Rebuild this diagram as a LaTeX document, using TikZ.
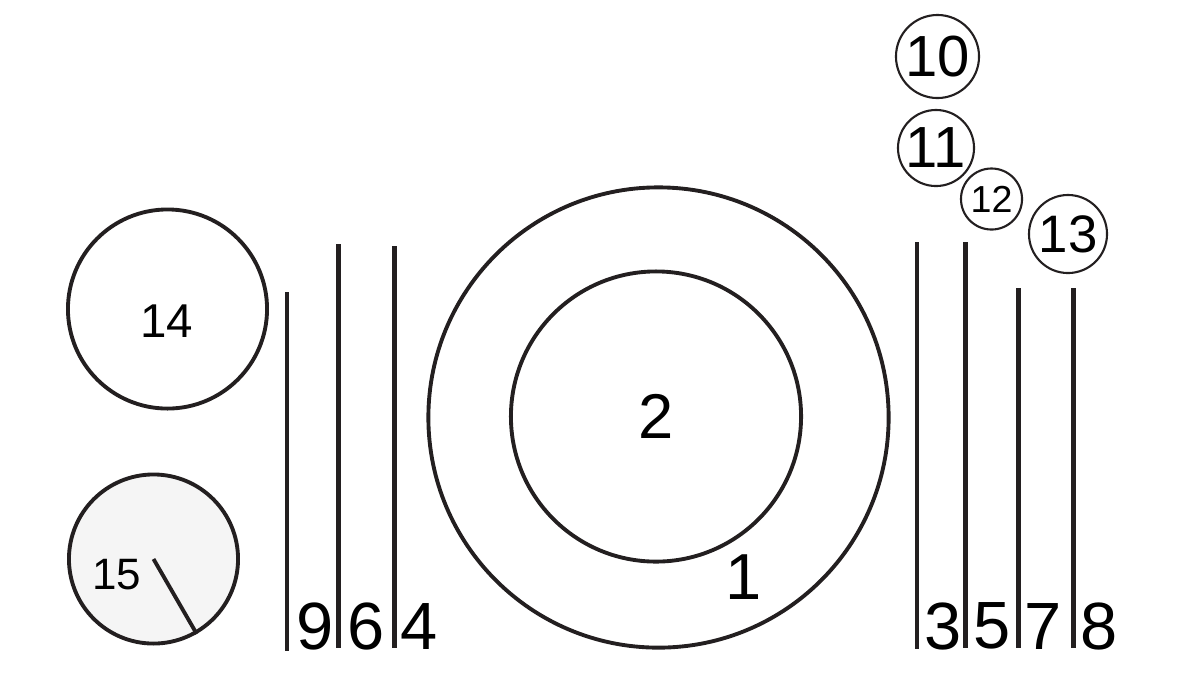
\documentclass[tikz,border=0pt]{standalone}
\usepackage{fontspec}
\setmainfont{Liberation Sans}
\usetikzlibrary{positioning}
\definecolor{ink}{RGB}{35,31,32}
\definecolor{butter}{RGB}{245,245,245}
\tikzset{
	dish/.style={
		draw=ink, circle, line width=1.1pt,
		inner sep=0pt, text=black
	},
	glass/.style={
		draw=ink, circle, line width=0.6pt,
		inner sep=0pt, text=black
	},
	cutlery/.style={draw=ink, line width=1.2pt},
}
\begin{document}
\begin{tikzpicture}[
		x=0.01cm, y=-0.01cm,
		num/.style={text=black, inner sep=0pt, font=\fontsize{19}{19}\selectfont}
		]
		\useasboundingbox (0,0) rectangle (1194,684);
		
		% plate
		\node[dish, minimum size=4.60cm] (P) at (658.5,417.5) {};
		\node[dish, minimum size=2.90cm, font=\fontsize{18}{18}\selectfont] (Q) at (656,416.5) {2};
		\node[num, font=\fontsize{18.5}{18.5}\selectfont] (L1) at (744,577) {1};
		
		% bread and butter
		\node[dish, minimum size=1.99cm] (B) at (167.5,309) {};
		\node[num, font=\fontsize{13.5}{13.5}\selectfont] (L14) at (167,321) {14};
		\node[dish, minimum size=1.69cm, fill=butter] (K) at (153.5,559) {};
		\node[num, font=\fontsize{12.5}{12.5}\selectfont] (L15) at (117,575) {15};
		\draw[cutlery, line width=1.1pt] (K.center) -- (K.-60);
		
		% glasses
		\node[glass, minimum size=0.83cm, font=\fontsize{16.5}{16.5}\selectfont] (G10) at (937.5,56.5) {10};
		\node[glass, minimum size=0.76cm, font=\fontsize{16.5}{16.5}\selectfont] (G11) at (936,148) {11};
		\node[glass, minimum size=0.61cm, font=\fontsize{10.7}{10.7}\selectfont] (G12) at (991.5,199) {12};
		\node[glass, minimum size=0.78cm, font=\fontsize{15}{15}\selectfont] (G13) at (1068,234) {13};
		
		% left cutlery
		\draw[cutlery] (287,292) -- (287,651);
		\draw[cutlery] (338.5,244) -- (338.5,648);
		\draw[cutlery] (394.5,246) -- (394.5,648);
		\node[num] (L9) at (315,626) {9};
		\node[num] (L6) at (366,626) {6};
		\node[num] (L4) at (419,626) {4};
		
		% right cutlery
		\draw[cutlery] (917,242) -- (917,649);
		\draw[cutlery] (965.5,242) -- (965.5,648);
		\draw[cutlery] (1018.5,288) -- (1018.5,648);
		\draw[cutlery] (1073.5,288) -- (1073.5,648);
		\node[num] (L3) at (943,626) {3};
		\node[num] (L5) at (992,626) {5};
		\node[num] (L7) at (1043,626) {7};
		\node[num] (L8) at (1099,626) {8};
	\end{tikzpicture}
\end{document}
